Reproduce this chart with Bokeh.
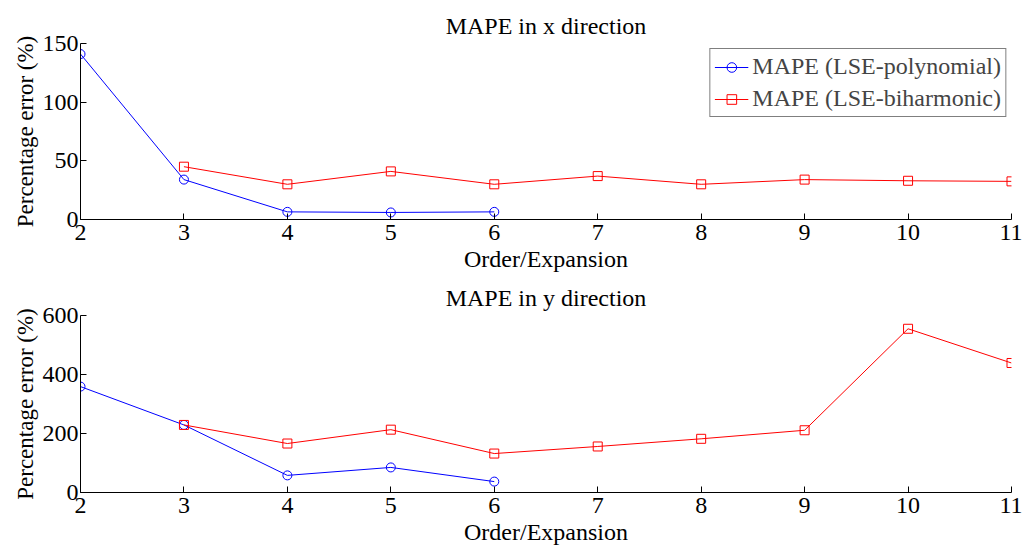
from bokeh.plotting import figure
from bokeh.layouts import column
from bokeh.models import Range1d, FixedTicker, Legend, LegendItem
from bokeh.embed import file_html
from bokeh.resources import INLINE

orders_poly = [2, 3, 4, 5, 6]
orders_bih = [3, 4, 5, 6, 7, 8, 9, 10, 11]
x_poly = [141, 34, 6.5, 6, 6.5]
x_bih = [45, 30, 41, 30, 37, 30, 34, 33, 32.5]
y_poly = [359, 229, 58, 85, 37]
y_bih = [229, 166, 213, 132, 156, 182, 211, 555, 439]
x_ticks = [2, 3, 4, 5, 6, 7, 8, 9, 10, 11]
top_yticks = [0, 50, 100, 150]
bot_yticks = [0, 200, 400, 600]

FONT = "Liberation Serif"
FS = "24px"
BLUE = "#0000ff"
RED = "#ff0000"


def make(title, ymax, yticks, ydata_poly, ydata_bih, btop, bbot, tstand, legend):
    p = figure(width=1022, height=btop + 177 + bbot, output_backend="svg",
               toolbar_location=None, x_range=Range1d(2, 11),
               y_range=Range1d(0, ymax), title=title)
    p.min_border_left = 80
    p.min_border_right = 11
    p.min_border_top = btop
    p.min_border_bottom = bbot
    p.outline_line_color = None
    p.grid.grid_line_color = None
    p.title.align = "center"
    p.title.vertical_align = "middle"
    p.title.text_font = FONT
    p.title.text_font_size = FS
    p.title.text_font_style = "normal"
    p.title.text_color = "#000000"
    p.title.offset = 0
    p.title.standoff = tstand
    p.xaxis.ticker = FixedTicker(ticks=x_ticks)
    p.yaxis.ticker = FixedTicker(ticks=yticks)
    p.xaxis.axis_label = "Order/Expansion"
    p.yaxis.axis_label = "Percentage error (%)"
    for ax in (p.xaxis[0], p.yaxis[0]):
        ax.major_label_text_font = FONT
        ax.major_label_text_font_size = FS
        ax.major_label_text_color = "#000000"
        ax.axis_label_text_font = FONT
        ax.axis_label_text_font_style = "normal"
        ax.axis_label_text_color = "#000000"
        ax.axis_line_color = "#000000"
        ax.major_tick_line_color = "#000000"
        ax.major_tick_in = 6
        ax.major_tick_out = 0
        ax.minor_tick_line_color = None
    p.xaxis[0].axis_label_standoff = 3
    p.yaxis[0].axis_label_standoff = 2
    p.xaxis[0].axis_label_text_font_size = FS
    p.yaxis[0].axis_label_text_font_size = "23px"
    p.xaxis[0].major_label_standoff = 5
    p.yaxis[0].major_label_standoff = 2
    r1 = p.line(orders_poly, ydata_poly, line_color=BLUE, line_width=1)
    c1 = p.scatter(orders_poly, ydata_poly, marker="circle", size=9,
                   line_color=BLUE, fill_color=None, line_width=1)
    r2 = p.line(orders_bih, ydata_bih, line_color=RED, line_width=1)
    c2 = p.scatter(orders_bih, ydata_bih, marker="square", size=9,
                   line_color=RED, fill_color=None, line_width=1)
    if legend:
        lg = Legend(items=[
            LegendItem(label="MAPE (LSE-polynomial)", renderers=[r1, c1]),
            LegendItem(label="MAPE (LSE-biharmonic)", renderers=[r2, c2]),
        ], location="top_right")
        lg.label_text_font = FONT
        lg.label_text_font_size = FS
        lg.border_line_color = "#000000"
        lg.border_line_width = 1
        lg.glyph_width = 34
        lg.glyph_height = 24
        lg.spacing = 5
        lg.padding = 4
        lg.margin = 5
        lg.label_standoff = 4
        lg.label_height = 24
        p.add_layout(lg)
    return p


p1 = make("MAPE in x direction", 150, top_yticks, x_poly, x_bih, 43, 54, 8, True)
p2 = make("MAPE in y direction", 600, bot_yticks, y_poly, y_bih, 41, 56, 8, False)
layout = column(p1, p2, spacing=0)

with open("out.html", "w") as f:
    f.write(file_html(layout, INLINE))
